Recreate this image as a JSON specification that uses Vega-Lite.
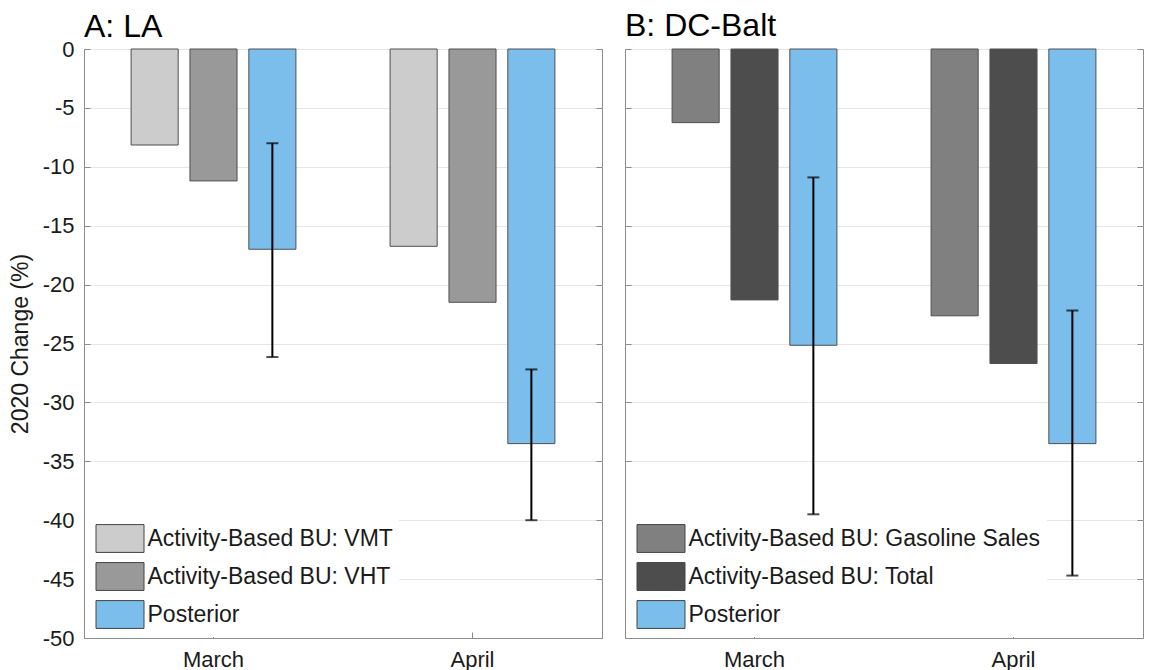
{
  "$schema": "https://vega.github.io/schema/vega-lite/v6.json",
  "padding": {"left": 8, "top": 9, "right": 5, "bottom": 0},
  "spacing": 21,
  "config": {
    "font": "Liberation Sans",
    "view": {"stroke": "#8c8c8c", "strokeWidth": 1},
    "axis": {
      "domainColor": "#8c8c8c",
      "tickColor": "#8c8c8c",
      "labelColor": "#1a1a1a",
      "labelFontSize": 22,
      "titleFontSize": 23,
      "titleFontWeight": "normal",
      "titleColor": "#1a1a1a",
      "gridColor": "#e6e6e6",
      "tickSize": -6
    },
    "legend": {
      "orient": "bottom-left",
      "offset": 1,
      "padding": 6,
      "fillColor": "white",
      "title": null,
      "labelFontSize": 23,
      "labelColor": "#1a1a1a",
      "labelOffset": 11,
      "labelLimit": 0,
      "symbolType": "M-1.5,-0.87H1.5V0.87H-1.5Z",
      "symbolSize": 1024,
      "symbolOffset": 12.5,
      "symbolStrokeColor": "#444444",
      "symbolStrokeWidth": 1,
      "symbolOpacity": 1,
      "rowPadding": 5
    },
    "title": {"fontSize": 32, "fontWeight": "normal", "anchor": "start", "frame": "group", "color": "black"}
  },
  "datasets": {
    "la": [
      {"month": "March", "series": "Activity-Based BU: VMT", "value": -8.15},
      {"month": "March", "series": "Activity-Based BU: VHT", "value": -11.2},
      {"month": "March", "series": "Posterior", "value": -17.0, "lo": -26.15, "hi": -8.0},
      {"month": "April", "series": "Activity-Based BU: VMT", "value": -16.75},
      {"month": "April", "series": "Activity-Based BU: VHT", "value": -21.5},
      {"month": "April", "series": "Posterior", "value": -33.5, "lo": -40.0, "hi": -27.2}
    ],
    "dc": [
      {"month": "March", "series": "Activity-Based BU: Gasoline Sales", "value": -6.25},
      {"month": "March", "series": "Activity-Based BU: Total", "value": -21.3},
      {"month": "March", "series": "Posterior", "value": -25.15, "lo": -39.5, "hi": -10.9},
      {"month": "April", "series": "Activity-Based BU: Gasoline Sales", "value": -22.65},
      {"month": "April", "series": "Activity-Based BU: Total", "value": -26.7},
      {"month": "April", "series": "Posterior", "value": -33.5, "lo": -44.7, "hi": -22.2}
    ]
  },
  "hconcat": [
    {
      "title": {"text": "A: LA", "offset": -6},
      "width": 518,
      "height": 589,
      "data": {"name": "la"},
      "encoding": {
        "xOffset": {"field": "series", "type": "nominal",
                    "sort": ["Activity-Based BU: VMT", "Activity-Based BU: VHT", "Posterior"],
                    "scale": {"paddingInner": 0.2, "paddingOuter": 0.8}}
      },
      "layer": [
        {
          "mark": {"type": "bar", "stroke": "#505050", "strokeWidth": 1},
          "encoding": {
            "x": {"field": "month", "type": "nominal", "sort": ["March", "April"],
                  "scale": {"paddingInner": 0, "paddingOuter": 0},
                  "axis": {"title": null, "labelAngle": 0, "labelPadding": 17, "grid": false}},
            "y": {"field": "value", "type": "quantitative",
                  "scale": {"domain": [-50, 0], "nice": false},
                  "axis": {"title": "2020 Change (%)", "values": [-50,-45,-40,-35,-30,-25,-20,-15,-10,-5,0], "labelExpr": "datum.value + ''", "labelPadding": 16, "titlePadding": 10, "grid": true}},
            "color": {"field": "series", "type": "nominal",
                      "sort": ["Activity-Based BU: VMT", "Activity-Based BU: VHT", "Posterior"],
                      "scale": {"domain": ["Activity-Based BU: VMT", "Activity-Based BU: VHT", "Posterior"], "range": ["#cccccc", "#999999", "#7bbdeb"]}}
          }
        },
        {
          "transform": [{"filter": "isValid(datum.hi)"}],
          "mark": {"type": "rule", "color": "black", "strokeWidth": 2},
          "encoding": {
            "x": {"field": "month", "type": "nominal", "sort": ["March", "April"],
                  "axis": {"orient": "top", "title": null, "labels": false, "domain": false, "grid": false}},
            "y": {"field": "lo", "type": "quantitative",
                  "axis": {"orient": "right", "title": null, "labels": false, "domain": false, "grid": false, "values": [-50,-45,-40,-35,-30,-25,-20,-15,-10,-5,0]}},
            "y2": {"field": "hi"}
          }
        },
        {
          "transform": [{"filter": "isValid(datum.hi)"}],
          "mark": {"type": "tick", "color": "black", "size": 12, "thickness": 2, "orient": "horizontal"},
          "encoding": {
            "x": {"field": "month", "type": "nominal", "sort": ["March", "April"], "axis": null},
            "y": {"field": "lo", "type": "quantitative", "axis": null}
          }
        },
        {
          "transform": [{"filter": "isValid(datum.hi)"}],
          "mark": {"type": "tick", "color": "black", "size": 12, "thickness": 2, "orient": "horizontal"},
          "encoding": {
            "x": {"field": "month", "type": "nominal", "sort": ["March", "April"], "axis": null},
            "y": {"field": "hi", "type": "quantitative", "axis": null}
          }
        }
      ],
      "resolve": {"axis": {"x": "independent", "y": "independent"}}
    },
    {
      "title": {"text": "B: DC-Balt", "offset": 6},
      "width": 518,
      "height": 589,
      "data": {"name": "dc"},
      "encoding": {
        "xOffset": {"field": "series", "type": "nominal",
                    "sort": ["Activity-Based BU: Gasoline Sales", "Activity-Based BU: Total", "Posterior"],
                    "scale": {"paddingInner": 0.2, "paddingOuter": 0.8}}
      },
      "layer": [
        {
          "mark": {"type": "bar", "stroke": "#505050", "strokeWidth": 1},
          "encoding": {
            "x": {"field": "month", "type": "nominal", "sort": ["March", "April"],
                  "scale": {"paddingInner": 0, "paddingOuter": 0},
                  "axis": {"title": null, "labelAngle": 0, "labelPadding": 17, "grid": false}},
            "y": {"field": "value", "type": "quantitative",
                  "scale": {"domain": [-50, 0], "nice": false},
                  "axis": {"title": null, "labels": false, "values": [-50,-45,-40,-35,-30,-25,-20,-15,-10,-5,0], "grid": true}},
            "color": {"field": "series", "type": "nominal",
                      "sort": ["Activity-Based BU: Gasoline Sales", "Activity-Based BU: Total", "Posterior"],
                      "scale": {"domain": ["Activity-Based BU: Gasoline Sales", "Activity-Based BU: Total", "Posterior"], "range": ["#808080", "#4d4d4d", "#7bbdeb"]}}
          }
        },
        {
          "transform": [{"filter": "isValid(datum.hi)"}],
          "mark": {"type": "rule", "color": "black", "strokeWidth": 2},
          "encoding": {
            "x": {"field": "month", "type": "nominal", "sort": ["March", "April"],
                  "axis": {"orient": "top", "title": null, "labels": false, "domain": false, "grid": false}},
            "y": {"field": "lo", "type": "quantitative",
                  "axis": {"orient": "right", "title": null, "labels": false, "domain": false, "grid": false, "values": [-50,-45,-40,-35,-30,-25,-20,-15,-10,-5,0]}},
            "y2": {"field": "hi"}
          }
        },
        {
          "transform": [{"filter": "isValid(datum.hi)"}],
          "mark": {"type": "tick", "color": "black", "size": 12, "thickness": 2, "orient": "horizontal"},
          "encoding": {
            "x": {"field": "month", "type": "nominal", "sort": ["March", "April"], "axis": null},
            "y": {"field": "lo", "type": "quantitative", "axis": null}
          }
        },
        {
          "transform": [{"filter": "isValid(datum.hi)"}],
          "mark": {"type": "tick", "color": "black", "size": 12, "thickness": 2, "orient": "horizontal"},
          "encoding": {
            "x": {"field": "month", "type": "nominal", "sort": ["March", "April"], "axis": null},
            "y": {"field": "hi", "type": "quantitative", "axis": null}
          }
        }
      ],
      "resolve": {"axis": {"x": "independent", "y": "independent"}}
    }
  ],
  "resolve": {"scale": {"color": "independent", "y": "independent", "x": "independent", "xOffset": "independent"}}
}
